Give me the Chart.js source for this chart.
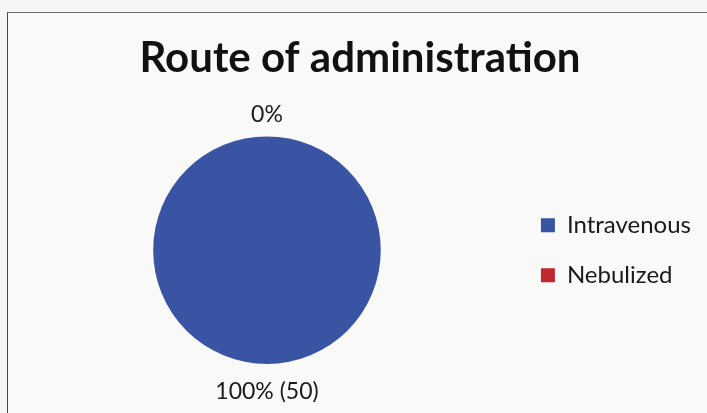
<!DOCTYPE html>
<html>
<head>
<meta charset="utf-8">
<script src="https://cdn.jsdelivr.net/npm/chart.js@4.4.0/dist/chart.umd.min.js"></script>
<style>
  html, body { margin: 0; padding: 0; background: #f6f6f5; }
  #wrap { position: relative; width: 707px; height: 413px; overflow: hidden; }
  #frame {
    position: absolute; left: 7px; top: 12px; width: 760px; height: 460px;
    border-left: 1px solid #4a4a4a; border-top: 1px solid #6a6a6a;
    background: #f9f9f8;
  }
  #routeChart { position: absolute; left: 0; top: 0; }
</style>
</head>
<body>
<div id="wrap">
  <div id="frame"></div>
  <canvas id="routeChart" width="707" height="413"></canvas>
</div>
<script>
const routes = ["Intravenous", "Nebulized"];
const patients = [50, 0];
const sliceColors = ["#3a54a4", "#c0282d"];

// percentage label outside each slice, count added when non-zero
const sliceLabels = {
  id: "sliceLabels",
  afterDatasetsDraw(chart) {
    const ctx = chart.ctx;
    const data = chart.data.datasets[0].data;
    const total = data.reduce((a, b) => a + b, 0);
    ctx.save();
    ctx.font = "23px Lato";
    ctx.fillStyle = "#1a1a1a";
    ctx.textAlign = "center";
    ctx.textBaseline = "middle";
    chart.getDatasetMeta(0).data.forEach((arc, i) => {
      const v = data[i];
      const pct = Math.round(v / total * 100);
      const text = pct + "%" + (v > 0 ? " (" + v + ")" : "");
      const mid = (arc.startAngle + arc.endAngle) / 2;
      const r = arc.outerRadius + 25;
      ctx.fillText(text, arc.x + Math.cos(mid) * r, arc.y + Math.sin(mid) * r + 3);
    });
    ctx.restore();
  }
};

new Chart(document.getElementById("routeChart").getContext("2d"), {
  type: "pie",
  data: {
    labels: routes,
    datasets: [{
      data: patients,
      backgroundColor: sliceColors,
      borderWidth: 0
    }]
  },
  options: {
    responsive: false,
    animation: false,
    layout: { padding: { left: 19, right: 6, top: 0, bottom: 49 } },
    plugins: {
      title: {
        display: true,
        text: "Route of administration",
        color: "#111",
        font: { family: "Lato", size: 42, weight: "bold" },
        padding: { top: 33, bottom: 53 }
      },
      legend: {
        position: "right",
        fullSize: false,
        labels: {
          color: "#1a1a1a",
          font: { family: "Lato", size: 24 },
          boxWidth: 14,
          boxHeight: 14,
          padding: 26
        }
      },
      tooltip: { enabled: false }
    }
  },
  plugins: [sliceLabels]
});
</script>
</body>
</html>
